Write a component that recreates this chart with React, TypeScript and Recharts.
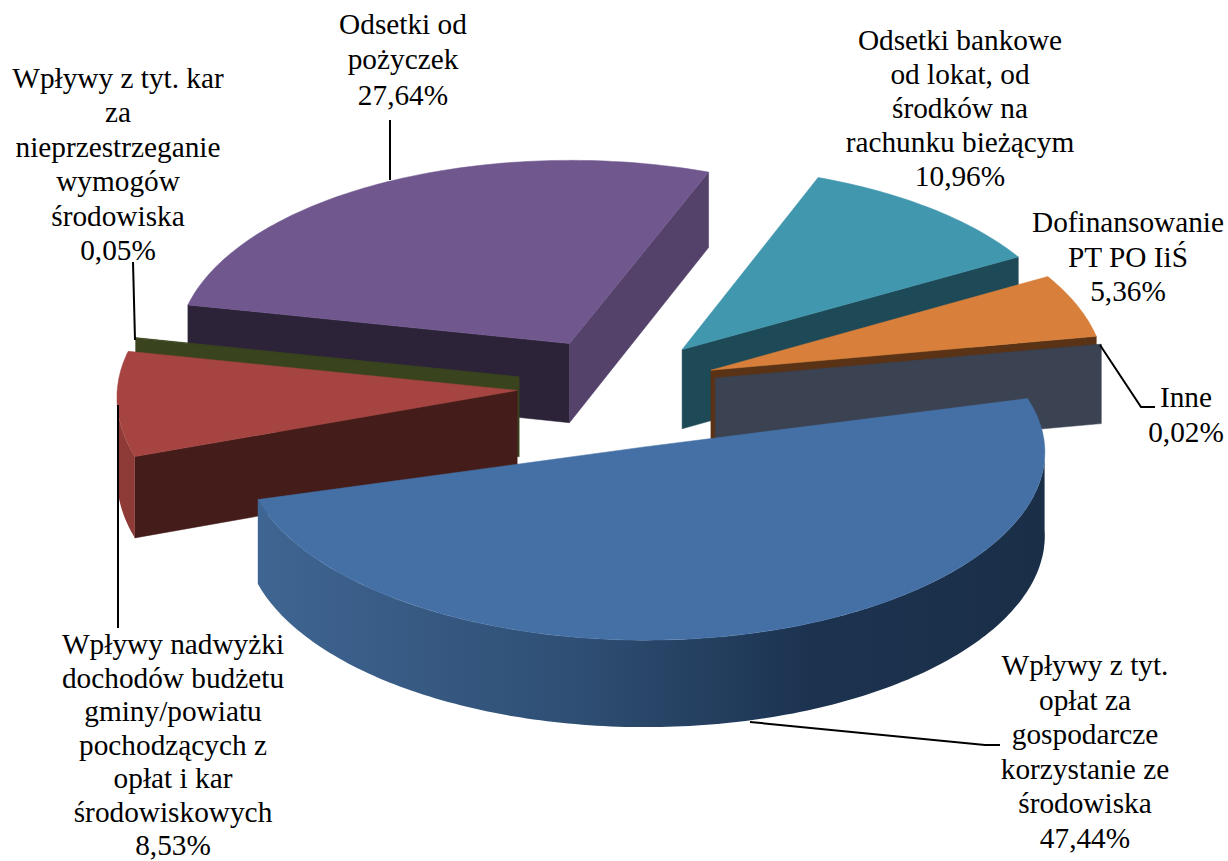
import { Pie, PieChart } from "recharts";

const WIDTH = 1228;
const HEIGHT = 861;
const FONT = '"Liberation Serif", "Times New Roman", serif';

const sliceNames = [
  "Wpływy z tyt. opłat",
  "Wpływy nadwyżki",
  "Wpływy z tyt. kar",
  "Odsetki od pożyczek",
  "Odsetki bankowe",
  "Dofinansowanie",
  "Inne",
];
const sliceValues = [47.44, 8.53, 0.05, 27.64, 10.96, 5.36, 0.02];
const labelLines = [
  ["Wpływy z tyt.", "opłat za", "gospodarcze", "korzystanie ze", "środowiska"],
  ["Wpływy nadwyżki", "dochodów budżetu", "gminy/powiatu", "pochodzących z", "opłat i kar", "środowiskowych"],
  ["Wpływy z tyt. kar", "za", "nieprzestrzeganie", "wymogów", "środowiska"],
  ["Odsetki od", "pożyczek"],
  ["Odsetki bankowe", "od lokat, od", "środków na", "rachunku bieżącym"],
  ["Dofinansowanie", "PT PO IiŚ"],
  ["Inne"],
];

const pieData = sliceNames.map((name, i) => ({ name, value: sliceValues[i] }));

// kolejność malowania: od tyłu do przodu (indeksy w sliceNames)
const PAINT_ORDER = [3, 4, 5, 6, 2, 1, 0];

// spread/turn/nudge/yScale/xScale: widok 3D z Excela nie jest idealną elipsą, duże wycinki trzeba dociągnąć
const BASE = { explode: 100, spread: 1, turn: 0, nudge: 0, xScale: 1, yScale: 1, depth: 80 };
const SLICE_STYLE = [
  { ...BASE, top: "#4470A5", hi: "#4470A5", lo: "#4470A5", rim: "url(#blueWall)", explode: 122, spread: 1.048, turn: 1.2, nudge: -3.5, xScale: 1.004, yScale: 0.91, depth: 82 },
  { ...BASE, top: "#A54441", hi: "#441C1A", lo: "#441C1A", rim: "#8E3B38", xScale: 1.012 },
  { ...BASE, top: "#3A4420", hi: "#39431E", lo: "#39431E", rim: "#39431E" },
  { ...BASE, top: "#70588F", hi: "#2D2339", lo: "#54426A", rim: "#54426A" },
  { ...BASE, top: "#4097AE", hi: "#1E4957", lo: "#1E4957", rim: "#1E4957" },
  { ...BASE, top: "#D8803B", hi: "#5A3216", lo: "#5A3216", rim: "#5A3216" },
  { ...BASE, top: "#3B4353", hi: "#3B4353", lo: "#3B4353", rim: "#3B4353" },
];

const LABEL_STYLE = [
  { x: 1085, y: 665, step: 34.6, line: [[750, 722], [985, 745], [1000, 745]] },
  { x: 173, y: 644.4, step: 33.5, line: [[118, 405], [118, 628]] },
  { x: 118, y: 78, step: 34.4, line: [[133, 262], [135, 340]] },
  { x: 403, y: 24, step: 35.4, line: [[390, 120], [390, 180]] },
  { x: 960, y: 40, step: 33.9, line: [] },
  { x: 1128, y: 222, step: 34.5, line: [] },
  { x: 1186, y: 397, step: 34.5, line: [[1100, 345], [1141, 407], [1155, 407]] },
];

const CENTER_X = 617;
const CENTER_Y = 387;
const RADIUS = 395;
const SQUASH = 0.5;
const PERSPECTIVE_X = 0.03;
const PERSPECTIVE_Y = 0.05;

const rad = (a: number) => (a * Math.PI) / 180;

function SliceShape(props: any) {
  const { cx, cy, outerRadius, startAngle, endAngle, index } = props;
  const style = SLICE_STYLE[index];
  const rawHi = Math.max(startAngle, endAngle);
  const rawLo = Math.min(startAngle, endAngle);
  const mid = (rawHi + rawLo) / 2;
  const hi = mid + ((rawHi - rawLo) / 2) * style.spread + style.turn;
  const lo = mid - ((rawHi - rawLo) / 2) * style.spread + style.turn;

  // płaszczyzna koła -> ekran, z lekką perspektywą
  const project = (a: number, r: number, drop = 0) => {
    const X = style.explode * Math.cos(rad(mid)) + style.nudge + r * style.xScale * Math.cos(rad(a));
    const Y = -style.explode * Math.sin(rad(mid)) - r * style.yScale * Math.sin(rad(a));
    const sx = 1 + (PERSPECTIVE_X * Y) / outerRadius;
    const sy = 1 + (PERSPECTIVE_Y * Y) / outerRadius;
    return [cx + X * sx, cy + SQUASH * Y * sy + drop * sy];
  };
  const toPath = (pts: number[][]) =>
    "M" + pts.map((p) => `${p[0].toFixed(1)},${p[1].toFixed(1)}`).join("L") + "Z";
  const arc = (from: number, to: number, drop = 0) => {
    const pts = [];
    const steps = Math.max(1, Math.ceil(Math.abs(to - from)));
    for (let i = 0; i <= steps; i++) pts.push(project(from + ((to - from) * i) / steps, outerRadius, drop));
    return pts;
  };
  const face = (a: number) =>
    toPath([project(a, 0), project(a, outerRadius), project(a, outerRadius, style.depth), project(a, 0, style.depth)]);

  const parts = [];
  if (Math.cos(rad(hi)) < 0) parts.push(<path key="hi" d={face(hi)} fill={style.hi} stroke={style.hi} strokeWidth={0.5} />);
  if (Math.cos(rad(lo)) > 0) parts.push(<path key="lo" d={face(lo)} fill={style.lo} stroke={style.lo} strokeWidth={0.5} />);

  // ścianka boczna tylko w przedniej połówce elipsy
  const a0 = Math.max(180, lo + 360);
  const a1 = Math.min(360, hi + 360);
  if (a1 > a0) {
    parts.push(<path key="rim" d={toPath([...arc(a0, a1), ...arc(a1, a0, style.depth)])} fill={style.rim} />);
  }
  parts.push(<path key="top" d={toPath([project(0, 0), ...arc(lo, hi)])} fill={style.top} stroke={style.top} strokeWidth={0.5} />);

  return (
    <g>
      <defs>
        <linearGradient id="blueWall" gradientUnits="userSpaceOnUse" x1={258} y1={0} x2={1045} y2={0}>
          <stop offset="0" stopColor="#3F6592" />
          <stop offset="0.4" stopColor="#2F4F74" />
          <stop offset="0.7" stopColor="#1C3350" />
          <stop offset="1" stopColor="#1A2E47" />
        </linearGradient>
      </defs>
      {parts}
    </g>
  );
}

function SliceLabel(props: any) {
  const { index } = props;
  const pos = LABEL_STYLE[index];
  const percent = `${sliceValues[index].toFixed(2).replace(".", ",")}%`;
  const lines = [...labelLines[index], percent];
  return (
    <g>
      {pos.line.length > 0 && (
        <polyline points={pos.line.map((p) => p.join(",")).join(" ")} fill="none" stroke="#000" strokeWidth={2} />
      )}
      <text x={pos.x} y={pos.y} textAnchor="middle" fontFamily={FONT} fontSize={29.3} fill="#000">
        {lines.map((line, i) => (
          <tspan key={i} x={pos.x} y={pos.y + i * pos.step} dominantBaseline="central">
            {line}
          </tspan>
        ))}
      </text>
    </g>
  );
}

export default function App() {
  return (
    <div style={{ position: "absolute", left: 0, top: 0, width: WIDTH, height: HEIGHT, background: "#fff" }}>
      <PieChart width={WIDTH} height={HEIGHT} margin={{ top: 0, right: 0, bottom: 0, left: 0 }}>
        {PAINT_ORDER.map((sliceIndex, i) => (
          <Pie
            key={sliceIndex}
            data={pieData}
            dataKey="value"
            nameKey="name"
            cx={CENTER_X}
            cy={CENTER_Y}
            innerRadius={0}
            outerRadius={RADIUS}
            startAngle={10}
            endAngle={-350}
            isAnimationActive={false}
            stroke="none"
            labelLine={false}
            label={i === PAINT_ORDER.length - 1 ? SliceLabel : false}
            shape={(props: any) => (props.index === sliceIndex ? <SliceShape {...props} /> : <g />)}
          />
        ))}
      </PieChart>
    </div>
  );
}
